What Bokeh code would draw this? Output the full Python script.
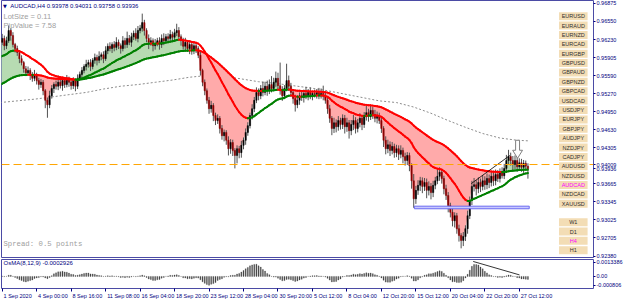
import numpy as np
from bokeh.plotting import figure
from bokeh.models import (Range1d, FixedTicker, NumeralTickFormatter, Span, Label,
                          BoxAnnotation, ColumnDataSource)
from bokeh.layouts import column
from bokeh.embed import file_html
from bokeh.resources import INLINE

# ------------------------------------------------------------------ data
closes = [
    0.9618, 0.9625, 0.9612, 0.9621, 0.9639, 0.9630, 0.9614, 0.9607, 0.9600, 0.9589,
    0.9582, 0.9571, 0.9564, 0.9568, 0.9559, 0.9554, 0.9561, 0.9550, 0.9543, 0.9547,
    0.9532, 0.9515, 0.9507, 0.9523, 0.9536, 0.9543, 0.9540, 0.9547, 0.9541, 0.9550,
    0.9543, 0.9552, 0.9547, 0.9541, 0.9550, 0.9540, 0.9554, 0.9561, 0.9568, 0.9575,
    0.9579, 0.9582, 0.9575, 0.9586, 0.9591, 0.9586, 0.9593, 0.9596, 0.9589, 0.9603,
    0.9611, 0.9607, 0.9614, 0.9609, 0.9618, 0.9612, 0.9607, 0.9621, 0.9614, 0.9625,
    0.9618, 0.9628, 0.9634, 0.9625, 0.9639, 0.9643, 0.9653, 0.9639, 0.9625, 0.9618,
    0.9621, 0.9612, 0.9616, 0.9621, 0.9614, 0.9625, 0.9621, 0.9628, 0.9625, 0.9632,
    0.9627, 0.9635, 0.9639, 0.9628, 0.9621, 0.9611, 0.9618, 0.9607, 0.9614, 0.9603,
    0.9612, 0.9607, 0.9595, 0.9568, 0.9547, 0.9532, 0.9515, 0.9500, 0.9506, 0.9488,
    0.9479, 0.9483, 0.9465, 0.9452, 0.9458, 0.9444, 0.9429, 0.9440, 0.9426, 0.9417,
    0.9429, 0.9422, 0.9435, 0.9444, 0.9458, 0.9470, 0.9488, 0.9500, 0.9515, 0.9529,
    0.9523, 0.9536, 0.9529, 0.9540, 0.9532, 0.9543, 0.9536, 0.9547, 0.9554, 0.9541,
    0.9532, 0.9523, 0.9536, 0.9550, 0.9540, 0.9529, 0.9518, 0.9507, 0.9515, 0.9523,
    0.9520, 0.9527, 0.9522, 0.9529, 0.9523, 0.9527, 0.9525, 0.9529, 0.9523, 0.9527,
    0.9522, 0.9515, 0.9500, 0.9483, 0.9465, 0.9475, 0.9468, 0.9479, 0.9472, 0.9483,
    0.9468, 0.9475, 0.9461, 0.9472, 0.9479, 0.9465, 0.9475, 0.9483, 0.9472, 0.9486,
    0.9493, 0.9486, 0.9497, 0.9490, 0.9483, 0.9488, 0.9479, 0.9465, 0.9444, 0.9429,
    0.9436, 0.9426, 0.9433, 0.9422, 0.9429, 0.9419, 0.9426, 0.9415, 0.9408, 0.9417,
    0.9399, 0.9372, 0.9340, 0.9355, 0.9364, 0.9372, 0.9362, 0.9369, 0.9355, 0.9362,
    0.9351, 0.9364, 0.9372, 0.9380, 0.9387, 0.9376, 0.9358, 0.9346, 0.9328, 0.9316,
    0.9301, 0.9310, 0.9287, 0.9275, 0.9266, 0.9273, 0.9287, 0.9310, 0.9337, 0.9362,
    0.9365, 0.9358, 0.9369, 0.9362, 0.9372, 0.9365, 0.9376, 0.9369, 0.9380, 0.9372,
    0.9383, 0.9376, 0.9387, 0.9381, 0.9394, 0.9408, 0.9415, 0.9408, 0.9401, 0.9408,
    0.9397, 0.9404, 0.9396, 0.9403, 0.93978, 0.93936,
]
first_open = 0.9622
upper_wick_pips = [
    6, 8, 5, 7, 9, 4, 6, 3, 5, 4,   6, 3, 5, 7, 4, 6, 8, 3, 5, 6,
    4, 3, 5, 9, 6, 4, 7, 12, 5, 6,  4, 8, 5, 3, 6, 4, 7, 5, 6, 4,
    8, 5, 6, 4, 7, 5, 9, 4, 6, 8,   5, 7, 4, 6, 9, 5, 4, 8, 5, 12,
    6, 7, 5, 9, 8, 6, 16, 5, 4, 7,  6, 4, 8, 5, 6, 7, 9, 5, 6, 8,
    5, 7, 12, 6, 4, 5, 8, 4, 6, 5,  7, 5, 4, 6, 3, 5, 4, 6, 8, 4,
    5, 7, 4, 6, 5, 4, 7, 6, 5, 4,   6, 5, 8, 5, 7, 6, 5, 8, 6, 9,
    7, 6, 12, 8, 10, 9, 15, 8, 12, 10,  41, 8, 6, 30, 9, 6, 5, 7, 9, 6,
    8, 7, 12, 6, 9, 5, 7, 6, 8, 9,  14, 6, 5, 7, 4, 9, 6, 8, 5, 7,
    6, 9, 5, 8, 10, 6, 7, 9, 6, 8,  12, 7, 9, 6, 8, 7, 5, 6, 4, 7,
    9, 6, 8, 5, 7, 6, 9, 5, 7, 6,   5, 4, 12, 8, 9, 7, 6, 8, 7, 9,
    6, 8, 7, 14, 9, 6, 5, 7, 6, 5,  8, 6, 5, 7, 4, 8, 6, 9, 7, 10,
    12, 8, 9, 7, 10, 8, 9, 7, 8, 10,  9, 8, 7, 9, 8, 10, 12, 7, 8, 9,
    6, 8, 7, 6, 5, 5.3,
]
lower_wick_pips = [
    7, 5, 8, 6, 4, 9, 5, 7, 6, 8,   5, 7, 6, 4, 8, 6, 5, 7, 9, 6,
    8, 14, 23, 6, 5, 8, 6, 7, 5, 9,  6, 5, 8, 7, 6, 9, 5, 4, 6, 5,
    7, 6, 8, 5, 6, 9, 5, 7, 8, 4,   6, 5, 8, 7, 5, 6, 9, 5, 7, 6,
    5, 8, 6, 4, 7, 5, 6, 9, 7, 12,  6, 10, 7, 5, 9, 6, 8, 5, 7, 6,
    8, 5, 6, 7, 9, 6, 8, 5, 10, 7,  6, 8, 5, 9, 7, 8, 6, 9, 7, 10,
    8, 6, 9, 7, 10, 8, 12, 9, 10, 23,  14, 10, 9, 7, 8, 6, 5, 7, 6, 5,
    8, 6, 7, 5, 9, 6, 7, 5, 8, 6,   7, 9, 6, 5, 8, 7, 9, 12, 6, 8,
    6, 9, 5, 7, 6, 8, 5, 7, 6, 5,   7, 6, 9, 8, 12, 8, 10, 7, 9, 8,
    12, 9, 14, 8, 10, 9, 7, 8, 10, 6,  7, 9, 6, 8, 7, 9, 6, 8, 12, 10,
    8, 10, 7, 9, 8, 10, 7, 12, 9, 8,  10, 14, 16, 9, 8, 10, 12, 8, 14, 9,
    12, 8, 7, 6, 8, 9, 10, 8, 12, 9,  10, 12, 9, 11, 14, 10, 8, 9, 6, 8,
    9, 12, 8, 10, 7, 9, 8, 10, 7, 9,  8, 6, 7, 5, 6, 8, 7, 9, 10, 8,
    9, 7, 8, 10, 6, 17.8,
]

# moving averages: a medium line and a slow line (coloured by slope); the cloud is
# filled between the close and the slow line
fast_period, slow_period = 26, 68
fast_seed, slow_seed = 0.9589, 0.9540
osma_fast, osma_slow, osma_signal = 8, 12, 9

long_ma_bars = [0, 8, 16, 24, 32, 40, 48, 56, 64, 72, 80, 88, 96, 104, 112, 120,
                128, 136, 144, 152, 160, 168, 176, 184, 192, 200, 208, 216, 224,
                232, 240, 245]
long_ma_values = [0.9511, 0.9514, 0.9517, 0.9521, 0.9525, 0.9529, 0.9535, 0.9540,
                  0.9543, 0.9547, 0.9551, 0.9556, 0.9559, 0.9558, 0.9553, 0.9548,
                  0.9545, 0.9541, 0.9537, 0.9532, 0.9526, 0.9520, 0.9514, 0.9511,
                  0.9503, 0.9492, 0.9479, 0.9467, 0.9456, 0.9448, 0.9444, 0.9443]

price_ticks = [0.92380, 0.92705, 0.93025, 0.93345, 0.93665, 0.94305, 0.94630,
               0.94950, 0.95270, 0.95590, 0.95905, 0.96230, 0.96550, 0.96875]
osc_ticks = [0.0013386, 0.0, -0.000806]
osc_tick_labels = ["0.0013386", "0.00", "-0.000806"]
time_tick_bars = [1, 17, 33, 49, 65, 81, 97, 113, 129, 145, 161, 177, 193, 209, 225, 241]
time_tick_labels = ["1 Sep 2020", "4 Sep 00:00", "8 Sep 16:00", "11 Sep 08:00",
                    "16 Sep 04:00", "18 Sep 20:00", "23 Sep 12:00", "28 Sep 04:00",
                    "30 Sep 20:00", "5 Oct 12:00", "8 Oct 04:00", "12 Oct 20:00",
                    "15 Oct 12:00", "20 Oct 04:00", "22 Oct 20:00", "27 Oct 12:00"]

alert_level = 0.94009
bid_price = 0.93936
zone_bars = [192.3, 245.6]
zone_prices = [0.93223, 0.93269]
trend_bars = [218.7, 236.6]
trend_prices = [0.9367, 0.9417]
osma_div_bars = [219.6, 241.1]
osma_div_values = [0.00140, 0.00014]
arrow_bar, arrow_tip_price = 240.2, 0.9412

symbols = ["EURUSD", "EURAUD", "EURNZD", "EURCAD", "EURGBP", "GBPUSD", "GBPAUD",
           "GBPNZD", "GBPCAD", "USDCAD", "USDJPY", "EURJPY", "GBPJPY", "AUDJPY",
           "NZDJPY", "CADJPY", "AUDUSD", "NZDUSD", "AUDCAD", "NZDCAD", "XAUUSD"]
timeframes = ["W1", "D1", "H4", "H1"]
active_symbol, active_tf = "AUDCAD", "H4"

header_text = "AUDCAD,H4  0.93978 0.94031 0.93758 0.93936"
osma_text = "OsMA(8,12,9) -0.0002926"

# ------------------------------------------------------------------ derived
n = len(closes)
idx = np.arange(n)
c = np.array(closes)
o = np.array([first_open] + closes[:-1])
hi = np.maximum(o, c) + np.array(upper_wick_pips) * 1e-4
lo = np.minimum(o, c) - np.array(lower_wick_pips) * 1e-4


def ema(vals, period, seed):
    a = 2.0 / (period + 1)
    out, m = [], seed
    for v in vals:
        m = m + a * (v - m)
        out.append(m)
    return np.array(out)


fast = ema(c, fast_period, fast_seed)
slow = ema(c, slow_period, slow_seed)
macd = ema(c, osma_fast, c[0]) - ema(c, osma_slow, c[0])
signal = np.array([macd[max(0, k - osma_signal + 1):k + 1].mean() for k in range(n)])
osma = macd - signal

# reference-pixel helpers for decorations only
BAR_PX, BAR0_PX = 2.1875, -0.5
PX_PER_PRICE, TOP_PRICE = 5629.0, 0.96923
OSC_ZERO_PX, PX_PER_OSC = 276.5, 11056.0


def bx(px):
    return (px - BAR0_PX) / BAR_PX


def yp(py):
    return TOP_PRICE - py / PX_PER_PRICE


def yo(py):
    return (OSC_ZERO_PX - py) / PX_PER_OSC


NAVY = "#000080"
FRAME = "#4B4BA5"
FONT = "Liberation Sans"
AXIS_FONT_PX = 5.5
RIGHT = 29
FRAME_W = 625 - 1 - RIGHT
XR = (bx(1), bx(602))

p1 = figure(width=625, height=258, x_range=Range1d(*XR),
            y_range=Range1d(yp(257), yp(0)), x_axis_location=None,
            y_axis_location="right", toolbar_location=None, output_backend="svg",
            min_border_left=1, min_border_right=RIGHT, min_border_top=0,
            min_border_bottom=1)
p2 = figure(width=625, height=43, x_range=p1.x_range,
            y_range=Range1d(yo(289), yo(259)), y_axis_location="right",
            toolbar_location=None, output_backend="svg",
            min_border_left=1, min_border_right=RIGHT, min_border_top=1,
            min_border_bottom=12)

for p in (p1, p2):
    p.background_fill_color = "white"
    p.border_fill_color = "white"
    p.outline_line_color = FRAME
    p.outline_line_width = 1
    p.grid.visible = False
    ya = p.yaxis[0]
    ya.axis_line_color = None
    ya.major_tick_line_color = NAVY
    ya.major_tick_out = 2
    ya.major_tick_in = 0
    ya.minor_tick_line_color = None
    ya.major_label_text_font_size = f"{AXIS_FONT_PX}px"
    ya.major_label_text_font = FONT
    ya.major_label_text_color = NAVY
    ya.major_label_standoff = 1

# the alert level and the bid are marked on the price scale as well
p1.yaxis[0].ticker = FixedTicker(ticks=price_ticks + [alert_level, bid_price])
p1.yaxis[0].formatter = NumeralTickFormatter(format="0.00000")
p2.yaxis[0].ticker = FixedTicker(ticks=osc_ticks)
p2.yaxis[0].major_label_overrides = {t: s for t, s in zip(osc_ticks, osc_tick_labels)}

# time labels start at their tick (MT4 style): centre each label half its width
# to the right of the bar where the small tick mark sits
EM = {" ": 0.278, ":": 0.278, "S": 0.667, "O": 0.778, "e": 0.556, "p": 0.556,
      "c": 0.5, "t": 0.278}
px_per_bar = FRAME_W / (XR[1] - XR[0])


def text_w(s):
    return sum(EM.get(ch, 0.556) for ch in s) * AXIS_FONT_PX


label_pos = [b + (text_w(s) / 2 + 1.5) / px_per_bar
             for b, s in zip(time_tick_bars, time_tick_labels)]
xa = p2.xaxis[0]
xa.ticker = FixedTicker(ticks=label_pos, minor_ticks=time_tick_bars)
xa.major_label_overrides = {t: s for t, s in zip(label_pos, time_tick_labels)}
xa.axis_line_color = None
xa.major_tick_line_color = None
xa.minor_tick_line_color = NAVY
xa.minor_tick_out = 3
xa.minor_tick_in = 0
xa.major_tick_out = 3
xa.major_tick_in = 0
xa.major_label_text_font_size = f"{AXIS_FONT_PX}px"
xa.major_label_text_font = FONT
xa.major_label_text_color = NAVY
xa.major_label_standoff = 1

# ------------------------------------------------------------------ main panel
p1.line(long_ma_bars, long_ma_values, line_color="#8C8C8C", line_width=1,
        line_dash="2 2")

# cloud between the close and the slow line
p1.varea(x=idx, y1=slow, y2=np.maximum(c, slow), fill_color="#B7DBB2")
p1.varea(x=idx, y1=np.minimum(c, slow), y2=slow, fill_color="#FFAAAA")

bull = c >= o
csrc = ColumnDataSource(dict(x=idx, o=o, c=c, hi=hi, lo=lo,
                             top=np.maximum(o, c), bot=np.minimum(o, c),
                             col=np.where(bull, "#000000", "#8B0000")))
p1.segment(x0="x", y0="lo", x1="x", y1="hi", source=csrc, line_color="#505050",
           line_width=1)
p1.vbar(x="x", top="top", bottom="bot", width=0.6, source=csrc,
        fill_color="col", line_color="col", line_width=0.5)


def slope_segments(p, vals):
    cols = np.where(vals[1:] >= vals[:-1], "#008000", "#FF0000")
    src = ColumnDataSource(dict(x0=idx[:-1], x1=idx[1:], y0=vals[:-1],
                                y1=vals[1:], col=cols))
    p.segment(x0="x0", y0="y0", x1="x1", y1="y1", source=src, line_color="col",
              line_width=2, line_cap="round")


slope_segments(p1, slow)
slope_segments(p1, fast)

p1.add_layout(Span(location=alert_level, dimension="width", line_color="#FFA500",
                   line_width=1, line_dash="8 4"))
p1.quad(left=[zone_bars[0]], right=[zone_bars[1]], bottom=[zone_prices[0]],
        top=[zone_prices[1]], fill_color="#C8C8FF", line_color="#6A6AF0",
        line_width=1)
p1.line(trend_bars, trend_prices, line_color="#000000", line_width=0.8)

# hollow down arrow anchored at its tip
ax_off = np.array([-2, 2, 2, 5, 0, -5, -2]) / BAR_PX
ay_off = np.array([-18, -18, -8, -8, 0, -8, -8]) / PX_PER_PRICE
p1.patch(arrow_bar + ax_off, arrow_tip_price - ay_off, fill_color="white",
         line_color="#808080", line_width=1)

# header texts
p1.add_layout(Label(x=bx(2.5), y=yp(5.5), text="\u25bc", text_baseline="middle",
                    text_font="DejaVu Sans", text_font_size="5px", text_color=NAVY))
p1.add_layout(Label(x=bx(10), y=yp(5.5), text=header_text, text_baseline="middle",
                    text_font=FONT, text_font_size="6px", text_color=NAVY))
p1.add_layout(Label(x=bx(3), y=yp(15.5), text="LotSize = 0.11", text_baseline="middle",
                    text_font=FONT, text_font_size="7.5px", text_color="#A0A0A0"))
p1.add_layout(Label(x=bx(3), y=yp(25), text="PipValue = 7.58", text_baseline="middle",
                    text_font=FONT, text_font_size="7.5px", text_color="#A0A0A0"))
p1.add_layout(Label(x=bx(3), y=yp(243), text="Spread: 0.5 points",
                    text_baseline="middle", text_font="Liberation Mono",
                    text_font_size="7.3px", text_color="#A0A0A0"))

# symbol / timeframe buttons
BTN_L, BTN_R, BTN_H = 567, 596, 8
rows = [(s, 15.7 + 9.38 * k) for k, s in enumerate(symbols)]
rows += [(t, 221.7 + 9.33 * k) for k, t in enumerate(timeframes)]
for name, cy in rows:
    p1.add_layout(BoxAnnotation(left=bx(BTN_L), right=bx(BTN_R),
                                top=yp(cy - BTN_H / 2), bottom=yp(cy + BTN_H / 2),
                                fill_color="#F3DDB5", fill_alpha=1.0,
                                line_color=None))
    col = "#FF00FF" if name in (active_symbol, active_tf) else "#303030"
    p1.add_layout(Label(x=bx((BTN_L + BTN_R) / 2), y=yp(cy), text=name,
                        text_align="center", text_baseline="middle",
                        text_font=FONT, text_font_size="5.5px", text_color=col))

# ------------------------------------------------------------------ oscillator
p2.vbar(x=idx, top=osma, bottom=0, width=0.45, fill_color="#404040",
        line_color="#404040", line_width=0.3)
p2.line(osma_div_bars, osma_div_values, line_color="#000000", line_width=0.8)
p2.add_layout(Label(x=bx(3), y=yo(263), text=osma_text, text_baseline="middle",
                    text_font=FONT, text_font_size="6px", text_color=NAVY))

layout = column(p1, p2, spacing=0)
open("out.html", "w").write(file_html(layout, INLINE))
